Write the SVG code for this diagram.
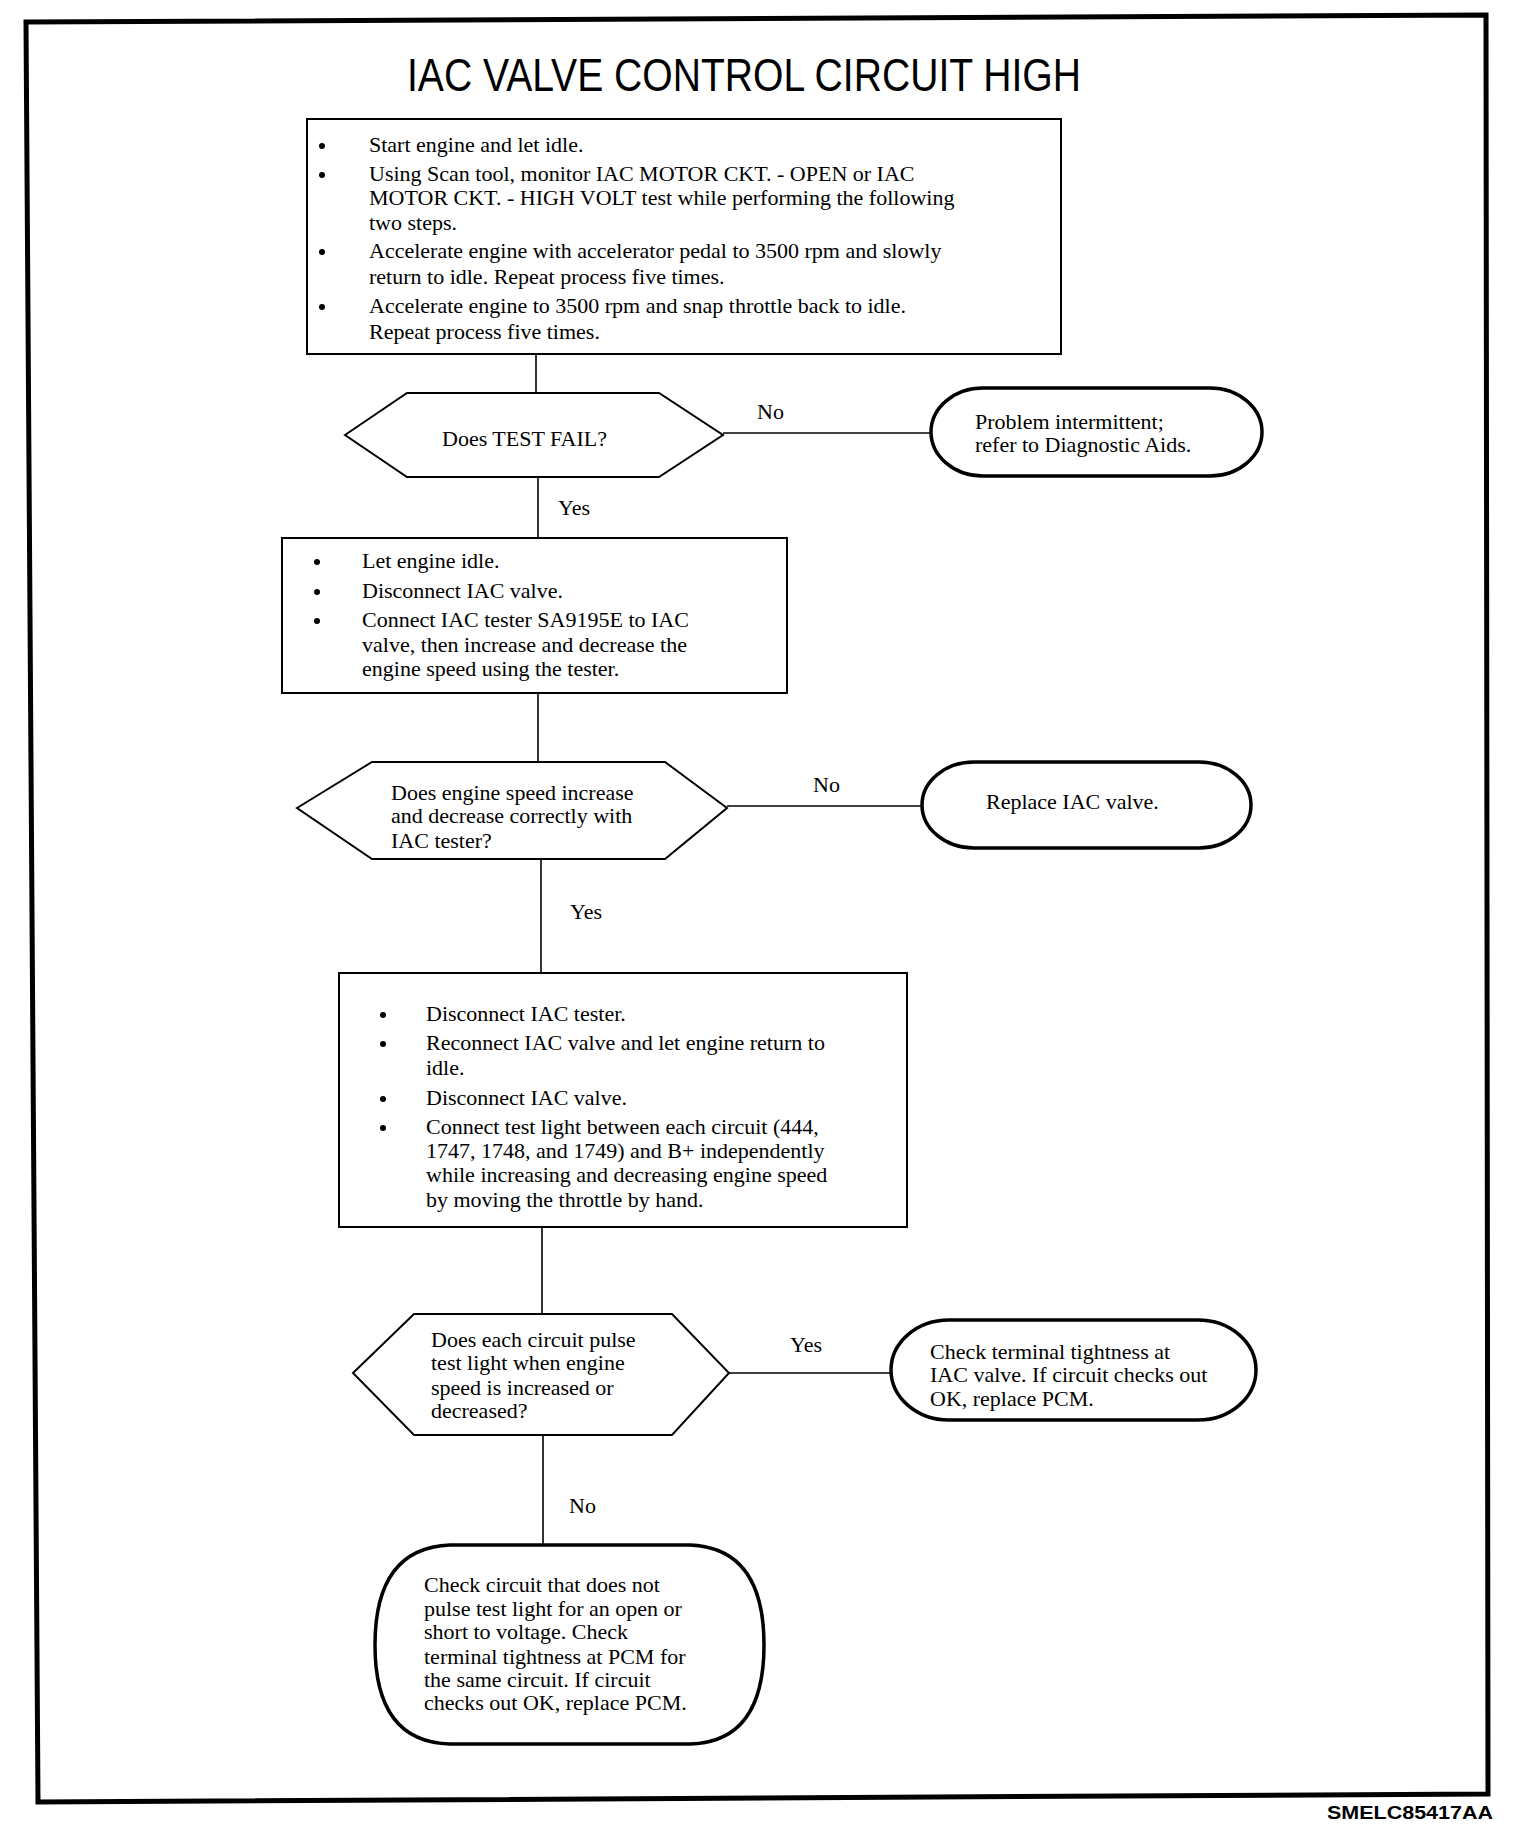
<svg xmlns="http://www.w3.org/2000/svg" width="1520" height="1832" viewBox="0 0 1520 1832">
<style>
text{font-family:"Liberation Serif","Times New Roman",serif;font-size:22px;fill:#000}
.title{font-family:"Liberation Sans",Arial,sans-serif;font-size:46px}
.code{font-family:"Liberation Sans",Arial,sans-serif;font-size:19px;font-weight:bold}
.box{fill:#fff;stroke:#000;stroke-width:2}
.hex{fill:#fff;stroke:#000;stroke-width:2}
.term{fill:#fff;stroke:#000;stroke-width:3.5}
.conn{stroke:#000;stroke-width:1.6;fill:none}
.frame{fill:none;stroke:#000;stroke-width:5}
</style>
<rect width="1520" height="1832" fill="#fff"/>
<path class="frame" d="M26,22 L1486,15 L1488,1794 L38,1802 Z"/>
<text class="title" x="407" y="91" textLength="674" lengthAdjust="spacingAndGlyphs">IAC VALVE CONTROL CIRCUIT HIGH</text>
<text class="code" x="1327" y="1819" textLength="166" lengthAdjust="spacingAndGlyphs">SMELC85417AA</text>

<g id="connectors">
<line class="conn" x1="536" y1="354" x2="536" y2="393"/>
<line class="conn" x1="538" y1="477" x2="538" y2="538"/>
<line class="conn" x1="723" y1="433" x2="931" y2="433"/>
<line class="conn" x1="538" y1="693" x2="538" y2="762"/>
<line class="conn" x1="727" y1="806" x2="922" y2="806"/>
<line class="conn" x1="541" y1="859" x2="541" y2="973"/>
<line class="conn" x1="542" y1="1227" x2="542" y2="1314"/>
<line class="conn" x1="729" y1="1373" x2="891" y2="1373"/>
<line class="conn" x1="543" y1="1435" x2="543" y2="1545"/>
<text x="757" y="419">No</text>
<text x="558" y="515">Yes</text>
<text x="813" y="792">No</text>
<text x="570" y="919">Yes</text>
<text x="790" y="1352">Yes</text>
<text x="569" y="1513">No</text>
</g>

<g id="step1">
<rect class="box" x="307" y="119" width="754" height="235"/>
<circle cx="322" cy="146" r="3"/><circle cx="322" cy="175" r="3"/><circle cx="322" cy="252" r="3"/><circle cx="322" cy="307" r="3"/>
<text x="369" y="152">Start engine and let idle.</text>
<text x="369" y="181">Using Scan tool, monitor IAC MOTOR CKT. - OPEN or IAC</text>
<text x="369" y="205">MOTOR CKT. - HIGH VOLT test while performing the following</text>
<text x="369" y="230">two steps.</text>
<text x="369" y="258">Accelerate engine with accelerator pedal to 3500 rpm and slowly</text>
<text x="369" y="284">return to idle. Repeat process five times.</text>
<text x="369" y="313">Accelerate engine to 3500 rpm and snap throttle back to idle.</text>
<text x="369" y="339">Repeat process five times.</text>
</g>

<g id="q1">
<polygon class="hex" points="345,435 407,393 659,393 723,435 659,477 407,477"/>
<text x="442" y="446">Does TEST FAIL?</text>
</g>

<g id="end1">
<rect class="term" x="931" y="388" width="331" height="88" rx="52" ry="44"/>
<text x="975" y="429">Problem intermittent;</text>
<text x="975" y="452">refer to Diagnostic Aids.</text>
</g>

<g id="step2">
<rect class="box" x="282" y="538" width="505" height="155"/>
<circle cx="317" cy="562" r="3"/><circle cx="317" cy="592" r="3"/><circle cx="317" cy="621" r="3"/>
<text x="362" y="568">Let engine idle.</text>
<text x="362" y="598">Disconnect IAC valve.</text>
<text x="362" y="627">Connect IAC tester SA9195E to IAC</text>
<text x="362" y="652">valve, then increase and decrease the</text>
<text x="362" y="676">engine speed using the tester.</text>
</g>

<g id="q2">
<polygon class="hex" points="297,808 372,762 665,762 727,808 665,859 372,859"/>
<text x="391" y="800">Does engine speed increase</text>
<text x="391" y="823">and decrease correctly with</text>
<text x="391" y="848">IAC tester?</text>
</g>

<g id="end2">
<rect class="term" x="922" y="762" width="329" height="86" rx="52" ry="43"/>
<text x="986" y="809">Replace IAC valve.</text>
</g>

<g id="step3">
<rect class="box" x="339" y="973" width="568" height="254"/>
<circle cx="383" cy="1015" r="3"/><circle cx="383" cy="1044" r="3"/><circle cx="383" cy="1099" r="3"/><circle cx="383" cy="1128" r="3"/>
<text x="426" y="1021">Disconnect IAC tester.</text>
<text x="426" y="1050">Reconnect IAC valve and let engine return to</text>
<text x="426" y="1075">idle.</text>
<text x="426" y="1105">Disconnect IAC valve.</text>
<text x="426" y="1134">Connect test light between each circuit (444,</text>
<text x="426" y="1158">1747, 1748, and 1749) and B+ independently</text>
<text x="426" y="1182">while increasing and decreasing engine speed</text>
<text x="426" y="1207">by moving the throttle by hand.</text>
</g>

<g id="q3">
<polygon class="hex" points="353,1373 414,1314 672,1314 729,1373 672,1435 414,1435"/>
<text x="431" y="1347">Does each circuit pulse</text>
<text x="431" y="1370">test light when engine</text>
<text x="431" y="1395">speed is increased or</text>
<text x="431" y="1418">decreased?</text>
</g>

<g id="end3">
<rect class="term" x="891" y="1320" width="365" height="100" rx="58" ry="50"/>
<text x="930" y="1359">Check terminal tightness at</text>
<text x="930" y="1382">IAC valve. If circuit checks out</text>
<text x="930" y="1406">OK, replace PCM.</text>
</g>

<g id="end4">
<path class="term" d="M450,1545 L690,1545 Q764,1548 764,1645 Q764,1742 690,1744 L450,1744 Q375,1742 375,1645 Q375,1548 450,1545 Z"/>
<text x="424" y="1592">Check circuit that does not</text>
<text x="424" y="1616">pulse test light for an open or</text>
<text x="424" y="1639">short to voltage. Check</text>
<text x="424" y="1664">terminal tightness at PCM for</text>
<text x="424" y="1687">the same circuit. If circuit</text>
<text x="424" y="1710">checks out OK, replace PCM.</text>
</g>
</svg>
